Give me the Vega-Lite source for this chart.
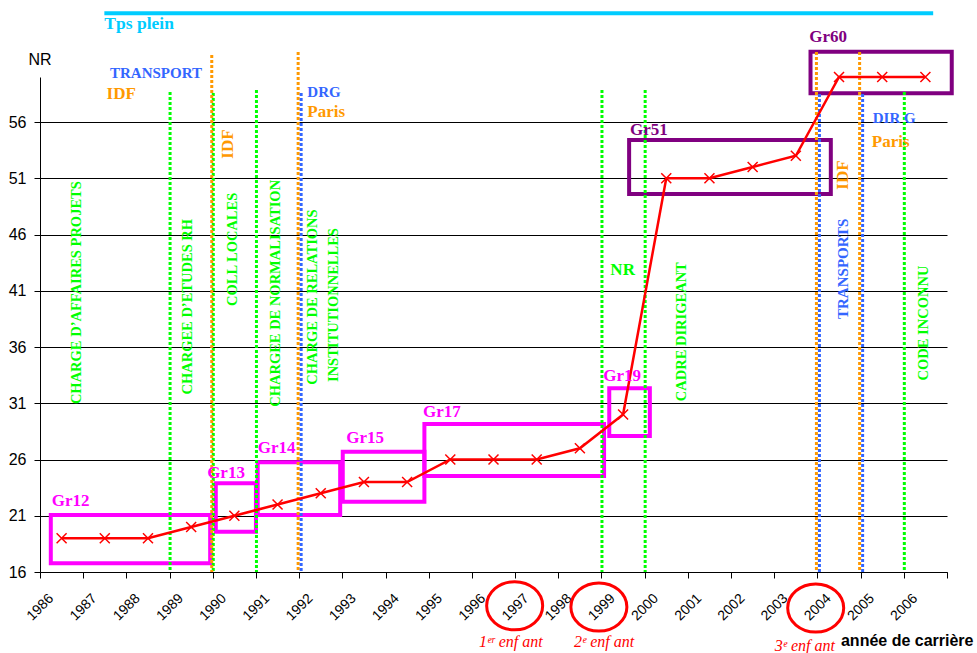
{
  "$schema": "https://vega.github.io/schema/vega-lite/v6.json",
  "width": 907,
  "height": 495,
  "autosize": {"type": "none"},
  "padding": {"left": 40, "top": 77, "right": 30, "bottom": 81},
  "background": "white",
  "config": {"view": {"stroke": null}, "font": "Liberation Sans"},
  "datasets": {
    "nr": [
      {"annee": 1986.5, "niveau": 19}, {"annee": 1987.5, "niveau": 19}, {"annee": 1988.5, "niveau": 19},
      {"annee": 1989.5, "niveau": 20}, {"annee": 1990.5, "niveau": 21}, {"annee": 1991.5, "niveau": 22},
      {"annee": 1992.5, "niveau": 23}, {"annee": 1993.5, "niveau": 24}, {"annee": 1994.5, "niveau": 24},
      {"annee": 1995.5, "niveau": 26}, {"annee": 1996.5, "niveau": 26}, {"annee": 1997.5, "niveau": 26},
      {"annee": 1998.5, "niveau": 27}, {"annee": 1999.5, "niveau": 30}, {"annee": 2000.5, "niveau": 51},
      {"annee": 2001.5, "niveau": 51}, {"annee": 2002.5, "niveau": 52}, {"annee": 2003.5, "niveau": 53},
      {"annee": 2004.5, "niveau": 60}, {"annee": 2005.5, "niveau": 60}, {"annee": 2006.5, "niveau": 60}
    ],
    "grades_mag": [
      {"grade": "Gr12", "annee": 1986.25, "annee_fin": 1989.94, "niveau": 16.77, "niveau_haut": 21.07},
      {"grade": "Gr13", "annee": 1990.07, "annee_fin": 1991.0, "niveau": 19.58, "niveau_haut": 23.88},
      {"grade": "Gr14", "annee": 1991.04, "annee_fin": 1992.95, "niveau": 21.07, "niveau_haut": 25.75},
      {"grade": "Gr15", "annee": 1993.01, "annee_fin": 1994.9, "niveau": 22.25, "niveau_haut": 26.69},
      {"grade": "Gr17", "annee": 1994.9, "annee_fin": 1999.06, "niveau": 24.53, "niveau_haut": 29.16},
      {"grade": "Gr19", "annee": 1999.18, "annee_fin": 2000.12, "niveau": 28.09, "niveau_haut": 32.33}
    ],
    "grades_violet": [
      {"grade": "Gr51", "annee": 1999.64, "annee_fin": 2004.31, "niveau": 49.6, "niveau_haut": 54.4},
      {"grade": "Gr60", "annee": 2003.84, "annee_fin": 2007.11, "niveau": 58.55, "niveau_haut": 62.25}
    ],
    "etiq_mag": [
      {"texte": "Gr12", "annee": 1986.27, "niveau": 21.87},
      {"texte": "Gr13", "annee": 1989.87, "niveau": 24.38},
      {"texte": "Gr14", "annee": 1991.04, "niveau": 26.55},
      {"texte": "Gr15", "annee": 1993.09, "niveau": 27.49},
      {"texte": "Gr17", "annee": 1994.87, "niveau": 29.8},
      {"texte": "Gr19", "annee": 1999.04, "niveau": 33.0}
    ],
    "etiq_violet": [
      {"texte": "Gr51", "annee": 1999.66, "niveau": 54.84},
      {"texte": "Gr60", "annee": 2003.81, "niveau": 63.14}
    ],
    "v_vert": [
      {"annee": 1989, "niveau": 58.67}, {"annee": 1990, "niveau": 58.58}, {"annee": 1991, "niveau": 58.84},
      {"annee": 1999, "niveau": 58.84}, {"annee": 2000, "niveau": 58.84}, {"annee": 2006, "niveau": 58.67}
    ],
    "v_orange": [
      {"annee": 1990, "niveau": 61.96}, {"annee": 1992, "niveau": 62.22},
      {"annee": 2004, "niveau": 62.22}, {"annee": 2005, "niveau": 62.22}
    ],
    "v_bleu": [
      {"annee": 1992, "niveau": 58.58}, {"annee": 2004, "niveau": 58.49}, {"annee": 2005, "niveau": 58.49}
    ],
    "tps_plein": [
      {"annee": 1987.49, "annee_fin": 2006.68, "niveau": 65.67}
    ],
    "txt_cyan": [
      {"texte": "Tps plein", "annee": 1987.49, "niveau": 64.27}
    ],
    "txt_vert_v": [
      {"texte": "CHARGE D’AFFAIRES PROJETS", "annee": 1986.86, "niveau": 40.83},
      {"texte": "CHARGEE D’ETUDES RH", "annee": 1989.43, "niveau": 39.58},
      {"texte": "COLL LOCALES", "annee": 1990.48, "niveau": 44.68},
      {"texte": "CHARGEE DE NORMALISATION", "annee": 1991.46, "niveau": 40.77},
      {"texte": "CHARGE DE RELATIONS", "annee": 1992.33, "niveau": 40.44},
      {"texte": "INSTITUTIONNELLES", "annee": 1992.81, "niveau": 39.73},
      {"texte": "CADRE DIRIGEANT", "annee": 2000.87, "niveau": 37.36},
      {"texte": "CODE INCONNU", "annee": 2006.47, "niveau": 38.13}
    ],
    "txt_vert_h": [
      {"texte": "NR", "annee": 1999.49, "niveau": 42.84}
    ],
    "txt_orange_h": [
      {"texte": "IDF", "annee": 1987.54, "niveau": 58.04},
      {"texte": "Paris", "annee": 1992.19, "niveau": 56.42},
      {"texte": "Paris", "annee": 2005.26, "niveau": 53.8}
    ],
    "txt_orange_v": [
      {"texte": "IDF", "annee": 1990.36, "niveau": 54.04},
      {"texte": "IDF", "annee": 2004.6, "niveau": 51.29}
    ],
    "txt_bleu_h": [
      {"texte": "TRANSPORT", "annee": 1987.62, "niveau": 59.88},
      {"texte": "DRG", "annee": 1992.19, "niveau": 58.25},
      {"texte": "DIR G", "annee": 2005.28, "niveau": 55.94}
    ],
    "txt_bleu_v": [
      {"texte": "TRANSPORTS", "annee": 2004.6, "niveau": 42.95}
    ],
    "ellipses": [
      {"annee": 1996.99, "niveau": 13.0},
      {"annee": 1998.94, "niveau": 12.89},
      {"annee": 2003.96, "niveau": 12.8}
    ],
    "txt_rouge": [
      {"texte": "1ᵉʳ enf ant", "annee": 1996.9, "niveau": 9.36},
      {"texte": "2ᵉ enf ant", "annee": 1999.06, "niveau": 9.36},
      {"texte": "3ᵉ enf ant", "annee": 2003.71, "niveau": 9.0}
    ]
  },
  "encoding": {
    "x": {
      "field": "annee", "type": "quantitative",
      "scale": {"domain": [1986, 2007], "nice": false, "zero": false},
      "axis": {
        "values": [1986, 1987, 1988, 1989, 1990, 1991, 1992, 1993, 1994, 1995, 1996, 1997, 1998, 1999, 2000, 2001, 2002, 2003, 2004, 2005, 2006, 2007],
        "format": "d",
        "labelExpr": "datum.value >= 2007 ? '' : datum.label",
        "labelAngle": -45, "labelAlign": "center", "labelBaseline": "middle",
        "labelPadding": 29, "labelFontSize": 14, "labelFont": "Liberation Sans", "labelColor": "#000",
        "labelFlush": false, "labelOverlap": false,
        "tickSize": 6, "tickColor": "#000", "domainColor": "#000", "grid": false,
        "title": "année de carrière", "titleFont": "Liberation Sans", "titleFontSize": 16,
        "titleFontWeight": "bold", "titleColor": "#000",
        "titleX": 933, "titleY": 73, "titleAlign": "right", "titleBaseline": "alphabetic"
      }
    },
    "y": {
      "field": "niveau", "type": "quantitative",
      "scale": {"domain": [16, 60], "nice": false, "zero": false},
      "axis": {
        "values": [16, 21, 26, 31, 36, 41, 46, 51, 56],
        "grid": true, "gridColor": "#000", "gridOpacity": 1, "gridWidth": 1,
        "tickSize": 6, "tickColor": "#000", "domainColor": "#000",
        "labelFontSize": 16, "labelFont": "Liberation Sans", "labelColor": "#000", "labelPadding": 8,
        "title": "NR", "titleAngle": 0, "titleFont": "Liberation Sans", "titleFontSize": 16,
        "titleFontWeight": "normal", "titleColor": "#000",
        "titleAlign": "left", "titleBaseline": "alphabetic", "titleX": -12, "titleY": -13
      }
    }
  },
  "layer": [
    {
      "data": {"name": "grades_mag"},
      "mark": {"type": "rect", "filled": false, "stroke": "#ff00ff", "strokeWidth": 4},
      "encoding": {"x2": {"field": "annee_fin"}, "y2": {"field": "niveau_haut"}}
    },
    {
      "data": {"name": "grades_violet"},
      "mark": {"type": "rect", "filled": false, "stroke": "#800080", "strokeWidth": 4},
      "encoding": {"x2": {"field": "annee_fin"}, "y2": {"field": "niveau_haut"}}
    },
    {
      "data": {"name": "v_vert"},
      "mark": {"type": "rule", "color": "#00ff00", "strokeWidth": 3, "strokeDash": [3, 2], "xOffset": 0.5},
      "encoding": {"y2": {"datum": 16}}
    },
    {
      "data": {"name": "v_orange"},
      "mark": {"type": "rule", "color": "#ff9900", "strokeWidth": 3, "strokeDash": [3, 2], "xOffset": -1},
      "encoding": {"y2": {"datum": 16}}
    },
    {
      "data": {"name": "v_bleu"},
      "mark": {"type": "rule", "color": "#3366ff", "strokeWidth": 3, "strokeDash": [3, 2], "xOffset": 2},
      "encoding": {"y2": {"datum": 16}}
    },
    {
      "data": {"name": "tps_plein"},
      "mark": {"type": "rule", "color": "#00ccff", "strokeWidth": 4},
      "encoding": {"x2": {"field": "annee_fin"}}
    },
    {
      "data": {"name": "nr"},
      "mark": {"type": "line", "color": "#ff0000", "strokeWidth": 2.5, "interpolate": "linear"},
      "encoding": {}
    },
    {
      "data": {"name": "nr"},
      "mark": {"type": "point", "shape": "M-1,-1L1,1M-1,1L1,-1", "size": 100, "filled": false, "stroke": "#ff0000", "strokeWidth": 1.5, "opacity": 1},
      "encoding": {}
    },
    {
      "data": {"name": "ellipses"},
      "mark": {"type": "point", "shape": "M1,0C1,0.475,0.552,0.86,0,0.86C-0.552,0.86,-1,0.475,-1,0C-1,-0.475,-0.552,-0.86,0,-0.86C0.552,-0.86,1,-0.475,1,0Z", "size": 3136, "filled": false, "stroke": "#ff0000", "strokeWidth": 3, "opacity": 1},
      "encoding": {}
    },
    {
      "data": {"name": "etiq_mag"},
      "mark": {"type": "text", "align": "left", "baseline": "alphabetic", "font": "Liberation Serif", "fontSize": 17, "fontWeight": "bold", "color": "#ff00ff"},
      "encoding": {"text": {"field": "texte"}}
    },
    {
      "data": {"name": "etiq_violet"},
      "mark": {"type": "text", "align": "left", "baseline": "alphabetic", "font": "Liberation Serif", "fontSize": 17, "fontWeight": "bold", "color": "#800080"},
      "encoding": {"text": {"field": "texte"}}
    },
    {
      "data": {"name": "txt_cyan"},
      "mark": {"type": "text", "align": "left", "baseline": "alphabetic", "font": "Liberation Serif", "fontSize": 17.5, "fontWeight": "bold", "color": "#00ccff"},
      "encoding": {"text": {"field": "texte"}}
    },
    {
      "data": {"name": "txt_vert_v"},
      "mark": {"type": "text", "angle": 270, "align": "center", "baseline": "middle", "font": "Liberation Serif", "fontSize": 14.5, "fontWeight": "bold", "color": "#00ff00"},
      "encoding": {"text": {"field": "texte"}}
    },
    {
      "data": {"name": "txt_vert_h"},
      "mark": {"type": "text", "align": "center", "baseline": "middle", "font": "Liberation Serif", "fontSize": 17, "fontWeight": "bold", "color": "#00ff00"},
      "encoding": {"text": {"field": "texte"}}
    },
    {
      "data": {"name": "txt_orange_h"},
      "mark": {"type": "text", "align": "left", "baseline": "alphabetic", "font": "Liberation Serif", "fontSize": 17, "fontWeight": "bold", "color": "#ff9900"},
      "encoding": {"text": {"field": "texte"}}
    },
    {
      "data": {"name": "txt_orange_v"},
      "mark": {"type": "text", "angle": 270, "align": "center", "baseline": "middle", "font": "Liberation Serif", "fontSize": 17, "fontWeight": "bold", "color": "#ff9900"},
      "encoding": {"text": {"field": "texte"}}
    },
    {
      "data": {"name": "txt_bleu_h"},
      "mark": {"type": "text", "align": "left", "baseline": "alphabetic", "font": "Liberation Serif", "fontSize": 15, "fontWeight": "bold", "color": "#3366ff"},
      "encoding": {"text": {"field": "texte"}}
    },
    {
      "data": {"name": "txt_bleu_v"},
      "mark": {"type": "text", "angle": 270, "align": "center", "baseline": "middle", "font": "Liberation Serif", "fontSize": 15, "fontWeight": "bold", "color": "#3366ff"},
      "encoding": {"text": {"field": "texte"}}
    },
    {
      "data": {"name": "txt_rouge"},
      "mark": {"type": "text", "align": "center", "baseline": "alphabetic", "font": "Liberation Serif", "fontSize": 16, "fontStyle": "italic", "color": "#ff0000"},
      "encoding": {"text": {"field": "texte"}}
    }
  ]
}
